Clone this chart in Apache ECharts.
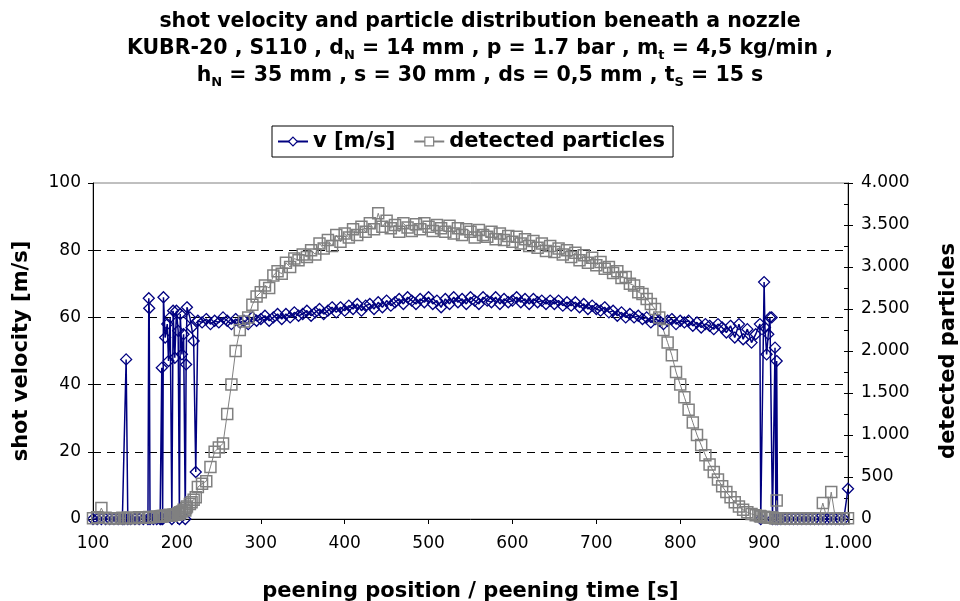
<!DOCTYPE html>
<html>
<head>
<meta charset="utf-8">
<script src="https://cdn.jsdelivr.net/npm/echarts@6/dist/echarts.min.js"></script>
<style>
html,body{margin:0;padding:0;background:#fff;}
#chart{width:960px;height:601px;}
</style>
</head>
<body>
<div id="chart"></div>
<script>
// peening position [s]
var positions = [
  100,105,110,115,120,125,130,135,137,139.5,141.5,145,150,155,160,165.5,166.5,167,168,172,176,180,
  181,182,183,184,186,188.5,190,192,194,195.5,197.5,199.5,201.5,203,204,206,208,210,211,212,215.5,217.5,220,222.5,
  225,230,235,240,245,250,255,260,265,270,
  275,280,285,290,295,300,305,310,315,320,
  325,330,335,340,345,350,355,360,365,370,
  375,380,385,390,395,400,405,410,415,420,
  425,430,435,440,445,450,455,460,465,470,
  475,480,485,490,495,500,505,510,515,520,
  525,530,535,540,545,550,555,560,565,570,
  575,580,585,590,595,600,605,610,615,620,
  625,630,635,640,645,650,655,660,665,670,
  675,680,685,690,695,700,705,710,715,720,
  725,730,735,740,745,750,755,760,765,770,
  775,780,785,790,795,800,805,810,815,820,
  825,830,835,840,845,850,855,860,865,870,
  875,880,885,890,895,
  896,900,901,903,905,907,909,910,913,914,915,916,
  920,925,930,935,940,945,950,955,960,965,970,975,980,985,990,995,1000
];
// shot velocity v [m/s]
var velocity = [
  0,0,0,0,0,0,0,0,0,47.5,0,0,0,0,0,0,65.7,62.7,0,0,0,0,
  0,45,0,66,54,58,47,60,0,62,48,62,56,0,61,49,55,0,46,63,60,57,53,14,
  59,58.5,59.5,58,59,58.5,60,59,58,59.5,
  58.5,59,58,60,59,59.5,60.5,59,60,61,
  59.5,61,60,61.5,60.5,61,62,60.5,61.5,62.5,
  61,62,63,61.5,63,62,63.5,62.5,64,62,
  63.5,64,62.5,64.5,63,65,63.5,64.5,65.5,64,
  66,65,64,65.5,64.5,66,64,65,63,65.5,
  64,66,64.5,65.5,64,66,65,64,66,65,
  64.5,66,64,65.5,64.5,65,66,64.5,65.5,64,
  65.5,64.5,65,64,65,64,65,63.5,64.5,63.5,
  64.5,63,64,62.5,63.5,62.5,62,63,61.5,62,
  60.5,61.5,60,61,60,60.5,59.5,60,58.5,59.5,
  59,58,59,59.5,58,59,58.5,59,57.5,58.5,
  57,58,57.5,56.5,58,57,55.5,57.5,54,58,
  53.5,56.5,52.5,55,58,
  0,70.5,57,49,55,60,60,0,51,0,47,0,
  0,0,0,0,0,0,0,0,0,0,0,0,0,0,0,0,9
];
// detected particles
var particles = [
  10,20,130,15,10,5,10,15,10,10,15,15,10,20,15,20,20,25,20,25,30,30,
  30,35,30,35,40,40,45,50,40,50,55,50,70,60,80,90,110,100,130,150,180,200,230,260,
  380,420,450,620,800,850,900,1250,1600,2000,
  2250,2350,2400,2550,2650,2700,2780,2750,2900,2950,
  2920,3050,3000,3100,3080,3150,3120,3200,3150,3280,
  3220,3320,3250,3380,3300,3400,3350,3450,3380,3480,
  3420,3520,3450,3640,3480,3550,3460,3500,3420,3520,
  3470,3430,3510,3450,3520,3480,3430,3500,3460,3420,
  3490,3400,3460,3380,3450,3420,3350,3440,3380,3360,
  3420,3330,3400,3320,3370,3300,3360,3280,3330,3250,
  3310,3230,3280,3190,3250,3180,3220,3150,3200,3120,
  3170,3080,3140,3050,3110,3020,3060,2980,3000,2930,
  2950,2870,2880,2800,2780,2700,2680,2620,2560,2500,
  2400,2250,2100,1950,1750,1600,1450,1300,1150,1000,
  880,760,650,560,470,390,320,260,200,150,
  110,80,60,45,35,
  30,25,25,20,20,15,15,15,10,10,220,10,
  10,5,5,5,5,5,5,5,5,5,190,5,320,5,5,5,10
];
var xTicks = [100,200,300,400,500,600,700,800,900,1000];
var vTicks = [0,20,40,60,80,100];
var pTicks = [0,500,1000,1500,2000,2500,3000,3500,4000];

function thousands(v){
  var s = String(Math.round(v));
  return s.replace(/\B(?=(\d{3})+(?!\d))/g, '.');
}

var vData = positions.map(function(x,i){return [x, velocity[i]];});
var pData = positions.map(function(x,i){return [x, particles[i]];});

var FONT = 'DejaVu Sans';
var chart = echarts.init(document.getElementById('chart'), null, {renderer:'canvas'});
var titleBase = {fontFamily: FONT, fontWeight: 'bold', fontSize: 20.5, color: '#000', lineHeight: 26};
var subStyle = {fontFamily: FONT, fontWeight: 'bold', fontSize: 13, color: '#000', lineHeight: 12, verticalAlign: 'bottom'};
chart.setOption({
  animation: false,
  backgroundColor: '#fff',
  title: [
    {text: 'shot velocity and particle distribution beneath a nozzle', left: 'center', top: 9, padding: 0,
     textStyle: titleBase},
    {text: 'KUBR-20 , S110 , d{s|N} = 14 mm , p = 1.7 bar , m{s|t} = 4,5 kg/min ,', left: 'center', top: 36, padding: 0,
     textStyle: Object.assign({rich: {s: subStyle}}, titleBase)},
    {text: 'h{s|N} = 35 mm , s = 30 mm , ds = 0,5 mm , t{s|S} = 15 s', left: 'center', top: 63, padding: 0,
     textStyle: Object.assign({rich: {s: subStyle}}, titleBase)}
  ],
  legend: {
    left: 272, top: 126,
    padding: [5, 8, 5, 5],
    itemGap: 18,
    itemWidth: 30, itemHeight: 11,
    borderColor: '#000', borderWidth: 1,
    textStyle: {fontFamily: FONT, fontWeight: 'bold', fontSize: 21, color: '#000'},
    data: [
      {name: 'v [m/s]', itemStyle: {color: '#fff', borderColor: '#000080', borderWidth: 1.2}},
      {name: 'detected particles', itemStyle: {color: '#fff', borderColor: '#808080', borderWidth: 1.2}}
    ]
  },
  grid: {left: 93, right: 112, top: 183, bottom: 82, containLabel: false, outerBoundsMode: 'none',
         show: true, borderColor: '#808080', borderWidth: 1, backgroundColor: 'transparent'},
  xAxis: {
    type: 'value', min: 100, max: 1000, interval: 100,
    axisLine: {show: true, onZero: false, lineStyle: {color: '#000', width: 1}},
    axisTick: {show: true, inside: false, length: 5, lineStyle: {color: '#000'}},
    axisLabel: {fontFamily: FONT, fontSize: 17, color: '#000', margin: 16, formatter: function(v){return thousands(v);}},
    splitLine: {show: false},
    name: 'peening position / peening time [s]', nameLocation: 'middle', nameGap: 62,
    nameTextStyle: {fontFamily: FONT, fontWeight: 'bold', fontSize: 21, color: '#000'}
  },
  yAxis: [
    {
      type: 'value', position: 'left', min: 0, max: 100, interval: 20,
      axisLine: {show: true, onZero: false, lineStyle: {color: '#000', width: 1}},
      axisTick: {show: true, inside: false, length: 5, lineStyle: {color: '#000'}},
      axisLabel: {fontFamily: FONT, fontSize: 17, color: '#000', margin: 12},
      splitLine: {show: true, lineStyle: {color: ['rgba(0,0,0,0)', '#000', '#000', '#000', '#000', 'rgba(0,0,0,0)'], type: [8, 6], width: 1}},
      name: 'shot velocity [m/s]', nameLocation: 'middle', nameGap: 61, nameRotate: 90,
      nameTextStyle: {fontFamily: FONT, fontWeight: 'bold', fontSize: 21, color: '#000'}
    },
    {
      type: 'value', position: 'right', min: 0, max: 4000, interval: 500,
      axisLine: {show: true, onZero: false, lineStyle: {color: '#000', width: 1}},
      axisTick: {show: true, inside: false, length: 5, lineStyle: {color: '#000'}},
      axisLabel: {fontFamily: FONT, fontSize: 17, color: '#000', margin: 13, formatter: function(v){return thousands(v);}},
      splitLine: {show: false},
      name: 'detected particles', nameLocation: 'middle', nameGap: 90, nameRotate: 90,
      nameTextStyle: {fontFamily: FONT, fontWeight: 'bold', fontSize: 21, color: '#000'}
    },
    {
      type: 'value', position: 'right', min: 0, max: 4000, interval: 250,
      axisLine: {show: false},
      axisTick: {show: true, inside: true, length: 4, lineStyle: {color: '#000'}},
      axisLabel: {show: false},
      splitLine: {show: false}
    }
  ],
  series: [
    {
      name: 'v [m/s]', type: 'line', xAxisIndex: 0, yAxisIndex: 0,
      data: vData, showAllSymbol: true, symbol: 'diamond', symbolSize: 11,
      lineStyle: {color: '#000080', width: 1.5},
      itemStyle: {color: 'rgba(255,255,255,0)', borderColor: '#000080', borderWidth: 1.3},
      emphasis: {disabled: true}
    },
    {
      name: 'detected particles', type: 'line', xAxisIndex: 0, yAxisIndex: 1,
      data: pData, showAllSymbol: true, symbol: 'rect', symbolSize: 11,
      lineStyle: {color: '#808080', width: 1},
      itemStyle: {color: 'rgba(255,255,255,0)', borderColor: '#808080', borderWidth: 1.5},
      emphasis: {disabled: true}
    }
  ]
});
</script>
</body>
</html>
